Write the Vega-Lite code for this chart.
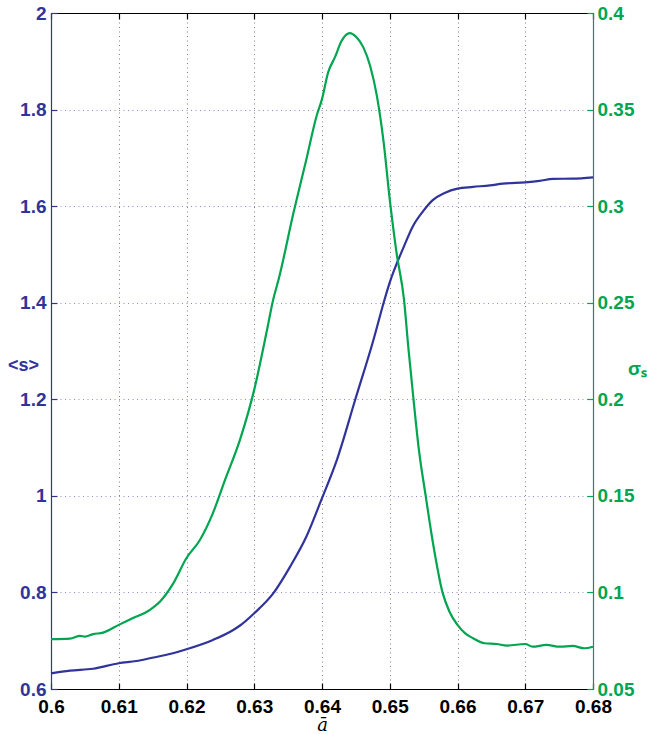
{
  "$schema": "https://vega.github.io/schema/vega-lite/v6.json",
  "width": 542,
  "height": 676,
  "autosize": "none",
  "padding": {"left": 51, "top": 13, "right": 54, "bottom": 45},
  "config": {
    "view": {"stroke": null},
    "font": "Liberation Sans",
    "axis": {"labelFontSize": 19, "labelFontWeight": "bold", "tickSize": -6, "tickWidth": 1.2, "domainWidth": 1.2}
  },
  "layer": [
    {
      "data": {"values": [
        {"a": 0.6, "s": 0.6325}, {"a": 0.6028, "s": 0.638}, {"a": 0.6062, "s": 0.642}, {"a": 0.61, "s": 0.6533},
        {"a": 0.6126, "s": 0.658}, {"a": 0.6146, "s": 0.6636}, {"a": 0.618, "s": 0.674}, {"a": 0.62, "s": 0.6823},
        {"a": 0.6239, "s": 0.7016}, {"a": 0.6269, "s": 0.7223}, {"a": 0.6279, "s": 0.7315}, {"a": 0.63, "s": 0.757},
        {"a": 0.6328, "s": 0.798}, {"a": 0.6353, "s": 0.8535}, {"a": 0.6377, "s": 0.9157}, {"a": 0.64, "s": 0.9952},
        {"a": 0.6422, "s": 1.0746}, {"a": 0.6449, "s": 1.199}, {"a": 0.6476, "s": 1.3233}, {"a": 0.6491, "s": 1.4},
        {"a": 0.65, "s": 1.442}, {"a": 0.6521, "s": 1.5167}, {"a": 0.6534, "s": 1.558}, {"a": 0.6549, "s": 1.5892},
        {"a": 0.6563, "s": 1.612}, {"a": 0.6581, "s": 1.6273}, {"a": 0.66, "s": 1.6363}, {"a": 0.6623, "s": 1.6398},
        {"a": 0.6648, "s": 1.6431}, {"a": 0.6667, "s": 1.6466}, {"a": 0.67, "s": 1.6493}, {"a": 0.6721, "s": 1.6522},
        {"a": 0.6741, "s": 1.6564}, {"a": 0.677, "s": 1.657}, {"a": 0.68, "s": 1.6597}
      ]},
      "mark": {"type": "line", "color": "#30339A", "strokeWidth": 2.2, "interpolate": "monotone"},
      "encoding": {
        "x": {
          "field": "a", "type": "quantitative",
          "scale": {"domain": [0.6, 0.68], "nice": false, "zero": false},
          "axis": {
            "orient": "bottom", "values": [0.6, 0.61, 0.62, 0.63, 0.64, 0.65, 0.66, 0.67, 0.68],
            "format": "~g", "labelColor": "#000000", "domainColor": "#000000", "tickColor": "#000000",
            "labelPadding": 14, "labelFlush": false,
            "grid": true, "gridColor": "#808080", "gridDash": [1, 3.5], "gridWidth": 1,
            "title": "ā", "titleFontSize": 18, "titleFontStyle": "italic", "titleFontWeight": "normal",
            "titleColor": "#000000", "titleFont": "DejaVu Serif",
            "titleY": 41, "titleBaseline": "alphabetic"
          }
        },
        "y": {
          "field": "s", "type": "quantitative",
          "scale": {"domain": [0.6, 2], "nice": false, "zero": false},
          "axis": {
            "orient": "left", "values": [0.6, 0.8, 1, 1.2, 1.4, 1.6, 1.8, 2], "format": "~g",
            "labelColor": "#30339A", "domainColor": "#30339A", "tickColor": "#30339A",
            "labelPadding": 11, "labelFlush": false,
            "grid": true, "gridColor": "#8a8ad0", "gridDash": [1, 3.5], "gridWidth": 1,
            "title": "<s>", "titleAngle": 0, "titleFontSize": 18, "titleFontWeight": "bold",
            "titleColor": "#30339A", "titleX": -28, "titleY": 352, "titleAlign": "center", "titleBaseline": "middle"
          }
        }
      }
    },
    {
      "data": {"values": [
        {"a": 0.6, "sigma": 0.0758}, {"a": 0.6028, "sigma": 0.0761}, {"a": 0.6043, "sigma": 0.0775}, {"a": 0.605, "sigma": 0.0771},
        {"a": 0.6062, "sigma": 0.0784}, {"a": 0.6077, "sigma": 0.0792}, {"a": 0.61, "sigma": 0.0832}, {"a": 0.6121, "sigma": 0.0867},
        {"a": 0.6146, "sigma": 0.091}, {"a": 0.6161, "sigma": 0.0953}, {"a": 0.618, "sigma": 0.1044}, {"a": 0.62, "sigma": 0.1178},
        {"a": 0.622, "sigma": 0.1273}, {"a": 0.6239, "sigma": 0.1411}, {"a": 0.6257, "sigma": 0.1584}, {"a": 0.6279, "sigma": 0.1791},
        {"a": 0.63, "sigma": 0.205}, {"a": 0.6318, "sigma": 0.2344}, {"a": 0.6328, "sigma": 0.2517}, {"a": 0.6336, "sigma": 0.2621},
        {"a": 0.6358, "sigma": 0.2967}, {"a": 0.6377, "sigma": 0.3243}, {"a": 0.6392, "sigma": 0.3467}, {"a": 0.64, "sigma": 0.3554},
        {"a": 0.6409, "sigma": 0.3692}, {"a": 0.6419, "sigma": 0.377}, {"a": 0.6429, "sigma": 0.3856}, {"a": 0.6441, "sigma": 0.3896},
        {"a": 0.6451, "sigma": 0.3874}, {"a": 0.6461, "sigma": 0.3822}, {"a": 0.6471, "sigma": 0.3727}, {"a": 0.6481, "sigma": 0.3571},
        {"a": 0.6491, "sigma": 0.333}, {"a": 0.65, "sigma": 0.3035}, {"a": 0.651, "sigma": 0.2759}, {"a": 0.6521, "sigma": 0.2517},
        {"a": 0.65277, "sigma": 0.2258}, {"a": 0.6535, "sigma": 0.2002}, {"a": 0.6543, "sigma": 0.1739}, {"a": 0.6553, "sigma": 0.1501},
        {"a": 0.6563, "sigma": 0.1273}, {"a": 0.6578, "sigma": 0.0999}, {"a": 0.6588, "sigma": 0.0901}, {"a": 0.66, "sigma": 0.0832},
        {"a": 0.6611, "sigma": 0.0789}, {"a": 0.6623, "sigma": 0.0763}, {"a": 0.664, "sigma": 0.0737}, {"a": 0.6658, "sigma": 0.0733},
        {"a": 0.6673, "sigma": 0.0725}, {"a": 0.67, "sigma": 0.0733}, {"a": 0.6711, "sigma": 0.0719}, {"a": 0.6731, "sigma": 0.0728},
        {"a": 0.6751, "sigma": 0.0719}, {"a": 0.677, "sigma": 0.0723}, {"a": 0.6787, "sigma": 0.0711}, {"a": 0.68, "sigma": 0.0719}
      ]},
      "mark": {"type": "line", "color": "#00A550", "strokeWidth": 2.2, "interpolate": "monotone"},
      "encoding": {
        "x": {
          "field": "a", "type": "quantitative",
          "scale": {"domain": [0.6, 0.68], "nice": false, "zero": false},
          "axis": {
            "orient": "top", "values": [0.6, 0.61, 0.62, 0.63, 0.64, 0.65, 0.66, 0.67, 0.68],
            "labels": false, "grid": false, "domainColor": "#000000", "tickColor": "#000000", "title": null
          }
        },
        "y": {
          "field": "sigma", "type": "quantitative",
          "scale": {"domain": [0.05, 0.4], "nice": false, "zero": false},
          "axis": {
            "orient": "right", "values": [0.05, 0.1, 0.15, 0.2, 0.25, 0.3, 0.35, 0.4], "format": "~g",
            "labelColor": "#00A550", "domainColor": "#2E7F6C", "tickColor": "#00A550",
            "labelPadding": 10, "labelFlush": false, "grid": false,
            "title": "σₛ", "titleAngle": 0, "titleFontSize": 19, "titleFontWeight": "bold",
            "titleColor": "#00A550", "titleX": 44, "titleY": 355, "titleAlign": "center", "titleBaseline": "middle"
          }
        }
      }
    }
  ],
  "resolve": {"scale": {"y": "independent"}, "axis": {"y": "independent", "x": "independent"}}
}
